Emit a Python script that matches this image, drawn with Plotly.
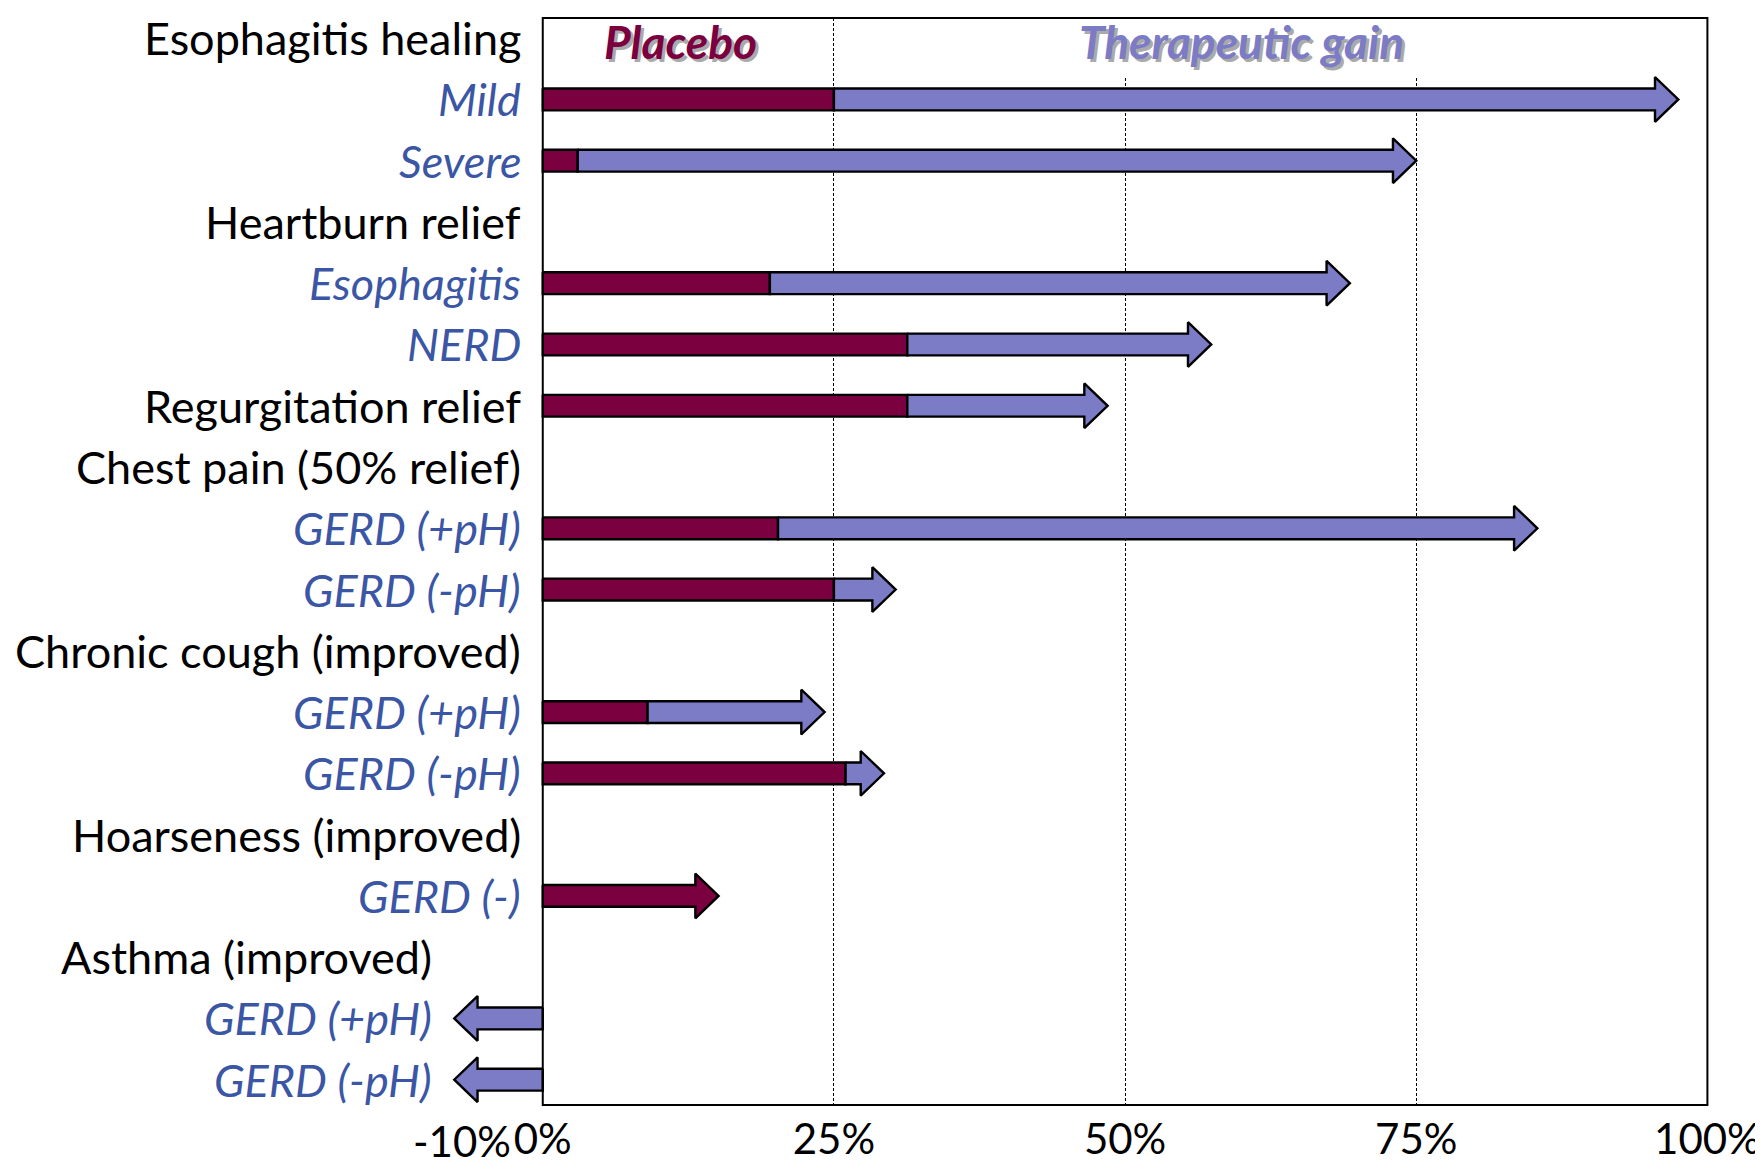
import plotly.graph_objects as go

# ---------------- data ----------------
labels = ["Esophagitis healing", "Mild", "Severe",
          "Heartburn relief", "Esophagitis", "NERD",
          "Regurgitation relief",
          "Chest pain (50% relief)", "GERD (+pH)", "GERD (-pH)",
          "Chronic cough (improved)", "GERD (+pH)", "GERD (-pH)",
          "Hoarseness (improved)", "GERD (-)",
          "Asthma (improved)", "GERD (+pH)", "GERD (-pH)"]
is_header = [True, False, False,
             True, False, False,
             True,
             True, False, False,
             True, False, False,
             True, False,
             True, False, False]
# placebo response (%) and therapeutic gain (%)
placebo = [None, 25, 3,
           None, 19.5, 31.3,
           31.3,
           None, 20.2, 25,
           None, 9, 26,
           None, 15.1,
           None, 0, 0]
gain = [None, 72.5, 72,
        None, 49.8, 26.1,
        17.2,
        None, 65.2, 5.3,
        None, 15.2, 3.3,
        None, 0,
        None, -7.6, -7.6]
xtick_vals = [0, 25, 50, 75, 100]
xtick_text = ["0%", "25%", "50%", "75%", "100%"]
extra_tick_text = "-10%"

# ---------------- style ----------------
PLACEBO_COLOR = "#7B0040"
GAIN_COLOR = "#7B7BC6"
SUB_COLOR = "#3A56A5"
FONT = "Lato"
SHAFT = 0.178     # half height of shaft (row units)
HEAD = 0.365      # half height of arrow head (row units)
HEAD_LEN = 2.0    # arrow head length (x units)

fig = go.Figure()


def rect_path(x0, x1, y):
    return ([x0, x1, x1, x0, x0],
            [y - SHAFT, y - SHAFT, y + SHAFT, y + SHAFT, y - SHAFT])


def arrow_path(x0, x1, y):
    hl = HEAD_LEN if x1 >= x0 else -HEAD_LEN
    xb = x1 - hl
    xs = [x0, xb, xb, x1, xb, xb, x0, x0]
    ys = [y - SHAFT, y - SHAFT, y - HEAD, y, y + HEAD, y + SHAFT, y + SHAFT, y - SHAFT]
    return xs, ys


def add_poly(xs, ys, color):
    fig.add_trace(go.Scatter(x=xs, y=ys, mode="lines", fill="toself",
                             fillcolor=color, line=dict(color="black", width=2.4),
                             hoverinfo="skip", showlegend=False))


for i, (p, g) in enumerate(zip(placebo, gain)):
    if p is None:
        continue
    if p > 0:
        if g == 0:
            xs, ys = arrow_path(0, p, i)
        else:
            xs, ys = rect_path(0, p, i)
        add_poly(xs, ys, PLACEBO_COLOR)
    if g != 0:
        xs, ys = arrow_path(p, p + g, i)
        add_poly(xs, ys, GAIN_COLOR)

# label anchors: each group is right-aligned left of its leftmost mark
tips = [None if p is None else p + g for p, g in zip(placebo, gain)]
anchor = [0.0] * len(labels)
i = 0
while i < len(labels):
    j = i + 1
    while j < len(labels) and not is_header[j]:
        j += 1
    grp = [t for t in tips[i:j] if t is not None]
    a = min([0.0] + grp)
    for k in range(i, j):
        anchor[k] = a
    i = j

annotations = []
for i, lab in enumerate(labels):
    annotations.append(dict(
        x=anchor[i], y=i, xref="x", yref="y", text=lab, showarrow=False,
        xanchor="right", yanchor="middle", xshift=-20,
        font=dict(family=FONT, size=45,
                  color="black" if is_header[i] else SUB_COLOR,
                  style="normal" if is_header[i] else "italic")))

# panel titles with shadow
for txt, xc, col in [("Placebo", 11.8, PLACEBO_COLOR), ("Therapeutic gain", 60.0, GAIN_COLOR)]:
    annotations.append(dict(x=xc, y=0.05, xref="x", yref="y", text=txt, showarrow=False,
                            xshift=3, yshift=-3,
                            font=dict(family=FONT, size=46, color="#AAAAAA",
                                      weight="bold", style="italic")))
    annotations.append(dict(x=xc, y=0.05, xref="x", yref="y", text=txt, showarrow=False,
                            font=dict(family=FONT, size=46, color=col,
                                      weight="bold", style="italic")))

annotations.append(dict(x=0, y=0, xref="x", yref="paper", text=extra_tick_text,
                        showarrow=False, xanchor="right", yanchor="top",
                        xshift=-30, yshift=-9,
                        font=dict(family=FONT, size=42, color="black")))

shapes = [
    dict(type="rect", xref="x", yref="y", x0=25.6, x1=99.6, y0=-0.329, y1=0.63,
         fillcolor="white", line=dict(width=0), layer="between"),
    dict(type="rect", xref="x", yref="paper", x0=0, x1=100, y0=0, y1=1,
         line=dict(color="black", width=2), fillcolor="rgba(0,0,0,0)", layer="above"),
]

fig.update_layout(
    width=1763, height=1165,
    margin=dict(l=395, r=17, t=10, b=60),
    paper_bgcolor="white", plot_bgcolor="white",
    annotations=annotations, shapes=shapes,
    xaxis=dict(range=[-12, 104], tickvals=xtick_vals, ticktext=xtick_text,
               showgrid=True, gridcolor="black", gridwidth=1.2, griddash="3px,2px",
               zeroline=False, showline=False, ticks="", ticklabelstandoff=6,
               tickfont=dict(family=FONT, size=42, color="black")),
    yaxis=dict(range=[17.413, -0.329], visible=False, showgrid=False, zeroline=False),
)

fig.write_html("out.html")
